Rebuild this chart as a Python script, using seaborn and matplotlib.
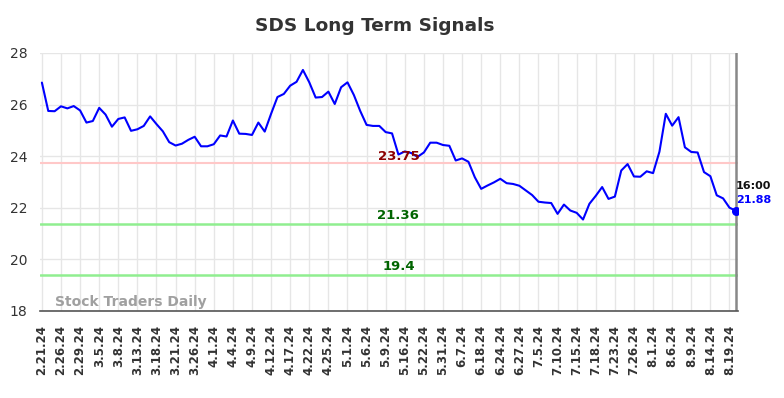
import matplotlib
matplotlib.use("Agg")
import matplotlib.pyplot as plt
import seaborn as sns
import pandas as pd
import numpy as np

title = "SDS Long Term Signals"

tick_labels = ["2.21.24", "2.26.24", "2.29.24", "3.5.24", "3.8.24", "3.13.24", "3.18.24",
               "3.21.24", "3.26.24", "4.1.24", "4.4.24", "4.9.24", "4.12.24", "4.17.24",
               "4.22.24", "4.25.24", "5.1.24", "5.6.24", "5.9.24", "5.16.24", "5.22.24",
               "5.31.24", "6.7.24", "6.18.24", "6.24.24", "6.27.24", "7.5.24", "7.10.24",
               "7.15.24", "7.18.24", "7.23.24", "7.26.24", "8.1.24", "8.6.24", "8.9.24",
               "8.14.24", "8.19.24"]

prices = [26.85, 25.75, 25.74, 25.93, 25.85, 25.94, 25.77, 25.30, 25.36, 25.87,
          25.61, 25.14, 25.44, 25.50, 24.98, 25.04, 25.17, 25.54, 25.24, 24.96,
          24.54, 24.41, 24.48, 24.63, 24.75, 24.38, 24.38, 24.46, 24.80, 24.76,
          25.38, 24.87, 24.86, 24.82, 25.30, 24.95, 25.64, 26.29, 26.41, 26.73,
          26.88, 27.34, 26.86, 26.27, 26.29, 26.50, 26.02, 26.67, 26.86, 26.37,
          25.75, 25.21, 25.17, 25.17, 24.93, 24.88, 24.06, 24.18, 24.12, 23.97,
          24.14, 24.52, 24.52, 24.43, 24.40, 23.83, 23.91, 23.78, 23.18, 22.73,
          22.86, 22.98, 23.12, 22.95, 22.92, 22.85, 22.67, 22.49, 22.23, 22.20,
          22.18, 21.76, 22.12, 21.89, 21.80, 21.54, 22.15, 22.46, 22.80, 22.34,
          22.43, 23.44, 23.69, 23.21, 23.20, 23.41, 23.34, 24.17, 25.64, 25.18,
          25.51, 24.34, 24.16, 24.14, 23.38, 23.22, 22.48, 22.36, 22.00, 21.88]

resistance = 23.75
supports = [21.36, 19.4]
last_time = "16:00"
watermark = "Stock Traders Daily"

df = pd.DataFrame({"idx": np.arange(len(prices)), "price": prices})

sns.set_theme(style="whitegrid")
plt.rcParams['font.family'] = ['DejaVu Sans']

fig = plt.figure(figsize=(7.84, 3.98), dpi=100)
ax = fig.add_axes([0.051, 0.219, 0.890, 0.648])

ax.axhline(resistance, color="#ffc8c8", lw=1.5, zorder=1)
for s in supports:
    ax.axhline(s, color="#90ee90", lw=1.8, zorder=1)

sns.lineplot(data=df, x="idx", y="price", ax=ax, color="#0000ff", lw=1.5, zorder=3)

n = len(prices)
ax.axvline(n - 1, color="#888888", lw=1.8, zorder=2)
ax.scatter([n - 1], [prices[-1]], color="#0000ff", s=30, zorder=4)

ax.set_xlim(-0.3, n - 1 + 0.3)
ax.set_ylim(18, 28)
ax.set_yticks([18, 20, 22, 24, 26, 28])
ax.set_yticklabels(["18", "20", "22", "24", "26", "28"], fontsize=10, color="#333333")
tick_pos = list(range(0, 3 * len(tick_labels), 3))
ax.set_xticks(tick_pos)
ax.set_xticklabels(tick_labels, rotation=90, fontsize=8.5, fontweight="bold", color="#333333")
ax.tick_params(axis="both", length=0)
ax.tick_params(axis="y", pad=9)
ax.tick_params(axis="x", pad=10)
ax.set_xlabel("")
ax.set_ylabel("")

ax.grid(True, color="#e6e6e6", lw=1)
for side in ["left", "right", "top"]:
    ax.spines[side].set_visible(False)
ax.spines["bottom"].set_visible(True)
ax.spines["bottom"].set_color("#555555")
ax.spines["bottom"].set_linewidth(1.2)

mid = 56
ax.text(mid, resistance, f"{resistance:.2f}", color="#8b0000", fontsize=9.5,
        fontweight="bold", ha="center", va="bottom")
for s in supports:
    ax.text(mid, s + 0.08, f"{s}", color="#006400", fontsize=9.5,
            fontweight="bold", ha="center", va="bottom")

ax.text(n - 1, prices[-1] + 0.75, last_time, color="#111111", fontsize=8,
        fontweight="bold", ha="left", va="bottom")
ax.text(n - 1, prices[-1] + 0.22, f"{prices[-1]:.2f}", color="#0000ff", fontsize=8,
        fontweight="bold", ha="left", va="bottom")

ax.text(2, 18.08, watermark, color="#a0a0a0", fontsize=10, fontweight="bold",
        ha="left", va="bottom")

fig.suptitle(title, x=0.478, y=0.958, fontsize=13.3, fontweight="bold", color="#333333")

fig.savefig("out.png", dpi=100)
